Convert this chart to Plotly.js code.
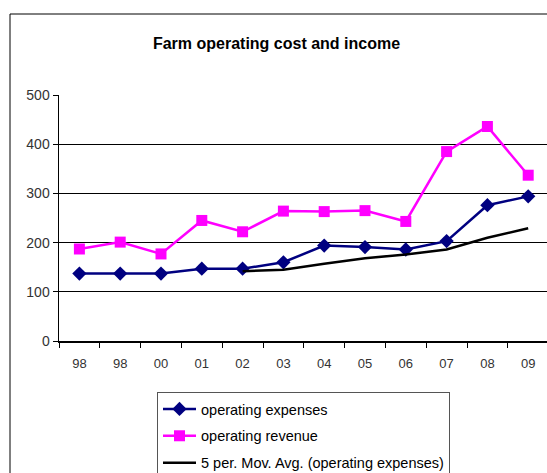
<!DOCTYPE html>
<html>
<head>
<meta charset="utf-8">
<script src="https://cdn.plot.ly/plotly-3.0.1.min.js"></script>
<style>
html,body{margin:0;padding:0;background:#fff;}
#chart{width:547px;height:473px;}
</style>
</head>
<body>
<div id="chart"></div>
<script>
const categories = ["98", "98", "00", "01", "02", "03", "04", "05", "06", "07", "08", "09"];
const operatingExpenses = [137, 137, 137, 147, 147, 160, 194, 191, 186, 203, 276, 294];
const operatingRevenue = [187, 201, 177, 245, 222, 264, 263, 265, 243, 385, 436, 337];
const movingAvg = [null, null, null, null, 142, 145, 157, 168, 176, 186, 210, 229];
const yTicks = [0, 100, 200, 300, 400, 500];

const xIdx = categories.map((_, i) => i);
const boundaries = categories.map((_, i) => i - 0.5);

const W = 547, H = 473;
const mL = 59, mR = 0, mT = 95, mB = 132;
const pw = W - mL - mR, ph = H - mT - mB;
const px = v => (v - mL) / pw;
const py = v => (H - mB - v) / ph;

const font = "Arial, 'Liberation Sans', sans-serif";

const traces = [
  {
    x: xIdx, y: operatingExpenses, name: "operating expenses",
    type: "scatter", mode: "lines+markers",
    line: {color: "#000080", width: 2.5},
    marker: {symbol: "diamond", size: 11, color: "#000080"},
    legendgroup: "a"
  },
  {
    x: xIdx, y: operatingRevenue, name: "operating revenue",
    type: "scatter", mode: "lines+markers",
    line: {color: "#FF00FF", width: 2.5},
    marker: {symbol: "square", size: 11, color: "#FF00FF"},
    legendgroup: "b"
  },
  {
    x: xIdx, y: movingAvg, name: "5 per. Mov. Avg. (operating expenses)",
    type: "scatter", mode: "lines",
    line: {color: "#000000", width: 2.5},
    connectgaps: false,
    legendgroup: "c"
  }
];

const layout = {
  width: W, height: H,
  margin: {l: mL, r: mR, t: mT, b: mB, pad: 0, autoexpand: false},
  paper_bgcolor: "#fff", plot_bgcolor: "#fff",
  font: {family: font, color: "#222", size: 12},
  title: {
    text: "<b>Farm operating cost and income</b>",
    font: {family: font, size: 16, color: "#000"},
    xref: "paper", x: px(276.5), xanchor: "center",
    yref: "container", y: 1 - 43 / H, yanchor: "middle"
  },
  xaxis: {
    range: [-0.5, -0.5 + pw / 40.8],
    tickvals: xIdx, ticktext: categories,
    ticks: "", ticklen: 0,
    ticklabelstandoff: 10,
    tickfont: {family: font, size: 13, color: "#333"},
    showgrid: false, zeroline: false,
    showline: true, linecolor: "#000", linewidth: 1.5,
    minor: {tickvals: boundaries, ticks: "outside", ticklen: 5, tickcolor: "#000", tickwidth: 1, showgrid: false},
    fixedrange: true
  },
  yaxis: {
    range: [0, 500],
    tickvals: yTicks,
    ticks: "outside", ticklen: 5, tickcolor: "#000", tickwidth: 1,
    tickfont: {family: font, size: 14, color: "#333"},
    showgrid: true, gridcolor: "#000", gridwidth: 1,
    zeroline: false,
    showline: true, linecolor: "#000", linewidth: 1.5,
    fixedrange: true
  },
  showlegend: true,
  legend: {
    x: px(157), xanchor: "left",
    y: py(392), yanchor: "top",
    bgcolor: "#fff", bordercolor: "#555", borderwidth: 1,
    font: {family: font, size: 14.5, color: "#000"},
    itemwidth: 33,
    tracegroupgap: 5,
    traceorder: "grouped"
  },
  shapes: [
    {
      type: "rect", xref: "paper", yref: "paper", layer: "below",
      x0: px(10), x1: px(600), y0: py(14), y1: py(520),
      line: {color: "#000", width: 1}, fillcolor: "rgba(0,0,0,0)"
    }
  ]
};

Plotly.newPlot("chart", traces, layout, {displayModeBar: false, staticPlot: true});
</script>
</body>
</html>
